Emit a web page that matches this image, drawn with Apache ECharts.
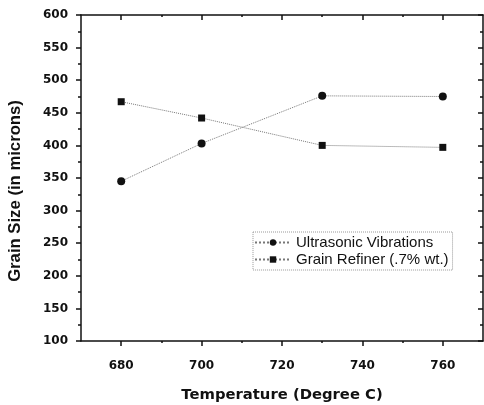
<!DOCTYPE html>
<html><head><meta charset="utf-8">
<script src="https://cdn.jsdelivr.net/npm/echarts@6/dist/echarts.min.js"></script>
<style>html,body{margin:0;padding:0;background:#fff}#c{width:484px;height:405px}</style>
</head><body><div id="c"></div>
<script>
const temperatures = [680, 700, 730, 760];
const ultrasonic = [345, 403, 476, 475];
const grainRefiner = [467, 442, 400, 397];
const xMajorTicks = [680, 700, 720, 740, 760];
const xMinorTicks = [690, 710, 730, 750];
const seriesNames = ['Ultrasonic Vibrations', 'Grain Refiner (.7% wt.)'];

const chart = echarts.init(document.getElementById('c'));
const axisColor = '#111';
const tickFont = {fontFamily: 'DejaVu Sans', fontWeight: 'bold', fontSize: 12, color: '#111'};
const baseX = {type: 'value', min: 670, max: 770, splitLine: {show: false}};
chart.setOption({
  animation: false,
  grid: {left: 81, right: 1, top: 15, bottom: 64, containLabel: false, outerBoundsMode: 'none'},
  legend: {
    orient: 'vertical', left: 253, top: 232,
    data: seriesNames,
    borderColor: '#999', borderWidth: 1, borderType: 'dotted',
    padding: [3, 4, 3, 1], itemGap: 2, itemWidth: 36, itemHeight: 8,
    textStyle: {fontFamily: 'Liberation Sans', fontSize: 15, color: '#111'}
  },
  xAxis: [
    Object.assign({}, baseX, {
      position: 'bottom',
      name: 'Temperature (Degree C)', nameLocation: 'middle', nameGap: 47,
      nameTextStyle: {fontFamily: 'DejaVu Sans', fontWeight: 'bold', fontSize: 14.8, color: '#111'},
      axisLine: {lineStyle: {color: axisColor, width: 1.5}},
      axisTick: {show: true, length: 5, customValues: xMajorTicks, lineStyle: {color: axisColor, width: 1.5}},
      axisLabel: Object.assign({margin: 19, customValues: xMajorTicks}, tickFont)
    }),
    Object.assign({}, baseX, {
      position: 'bottom', gridIndex: 0,
      axisLine: {show: false},
      axisTick: {show: true, length: 2, customValues: xMinorTicks, lineStyle: {color: axisColor, width: 1.5}},
      axisLabel: {show: false}
    }),
    Object.assign({}, baseX, {
      position: 'top',
      axisLine: {lineStyle: {color: axisColor, width: 1.5}},
      axisTick: {show: true, inside: true, length: 5, customValues: xMajorTicks, lineStyle: {color: axisColor, width: 1.5}},
      axisLabel: {show: false}
    }),
    Object.assign({}, baseX, {
      position: 'top',
      axisLine: {show: false},
      axisTick: {show: true, inside: true, length: 2, customValues: xMinorTicks, lineStyle: {color: axisColor, width: 1.5}},
      axisLabel: {show: false}
    })
  ],
  yAxis: [
    {
      type: 'value', min: 100, max: 600, interval: 50, position: 'left',
      name: 'Grain Size (in microns)', nameLocation: 'middle', nameGap: 57,
      nameTextStyle: {fontFamily: 'Liberation Sans', fontWeight: 'bold', fontSize: 16.7, color: '#111', padding: [0, 26, 0, 0]},
      splitLine: {show: false},
      axisLine: {show: true, lineStyle: {color: axisColor, width: 1.5}},
      axisTick: {show: true, length: 5, lineStyle: {color: axisColor, width: 1.5}},
      minorTick: {show: true, splitNumber: 2, length: 3, lineStyle: {color: axisColor, width: 1.5}},
      axisLabel: Object.assign({margin: 13}, tickFont)
    },
    {
      type: 'value', min: 100, max: 600, interval: 50, position: 'right',
      splitLine: {show: false},
      axisLine: {show: true, lineStyle: {color: axisColor, width: 1.5}},
      axisTick: {show: true, inside: true, length: 5, lineStyle: {color: axisColor, width: 1.5}},
      minorTick: {show: true, splitNumber: 2, length: 3, lineStyle: {color: axisColor, width: 1.5}},
      axisLabel: {show: false}
    }
  ],
  series: [
    {
      name: seriesNames[0], type: 'line', xAxisIndex: 0, yAxisIndex: 0,
      data: temperatures.map((t, i) => [t, ultrasonic[i]]),
      symbol: 'circle', symbolSize: 8,
      itemStyle: {color: '#111'},
      lineStyle: {color: '#777', width: 1, type: 'dotted'}
    },
    {
      name: seriesNames[1], type: 'line', xAxisIndex: 0, yAxisIndex: 0,
      data: temperatures.map((t, i) => [t, grainRefiner[i]]),
      symbol: 'rect', symbolSize: 7,
      itemStyle: {color: '#111'},
      lineStyle: {color: '#777', width: 1, type: 'dotted'}
    }
  ]
});
</script></body></html>
